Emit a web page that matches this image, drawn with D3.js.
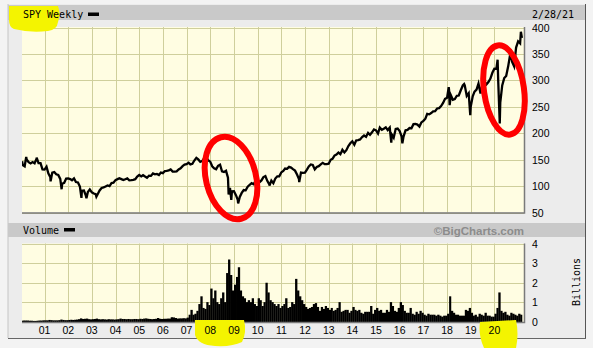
<!DOCTYPE html>
<html>
<head>
<meta charset="utf-8">
<script src="https://cdn.jsdelivr.net/npm/d3@7"></script>
<style>
  body { margin: 0; background: #f3f3f3; }
  svg { display: block; }
  .mono { font-family: "DejaVu Sans Mono", monospace; font-size: 10px; fill: #000; }
  .tick { font-family: "Liberation Sans", Arial, sans-serif; font-size: 10.5px; fill: #000; }
</style>
</head>
<body>
<div id="chart"></div>
<script>
// monthly closes, Jan 2000 .. Feb 2021
var priceClose = [
  139.6,137.4,150.4,145.1,142.8,145.3,143.1,152.0,143.6,143.4,131.6,131.2,
  136.6,124.1,116.7,125.5,126.5,122.4,121.0,113.6,104.4,106.1,114.1,114.3,
  113.2,110.9,114.6,107.7,106.8,99.0,91.2,91.6,81.8,88.6,93.7,88.2,
  85.9,84.6,84.7,91.6,96.3,97.6,99.1,101.2,100.0,105.6,106.3,111.3,
  113.1,114.9,113.1,111.3,112.9,114.5,110.9,111.3,111.8,113.0,118.0,120.9,
  118.2,120.6,118.0,115.8,119.5,119.2,123.9,122.2,123.0,120.9,125.6,124.5,
  128.4,128.6,129.8,131.5,127.5,127.3,127.8,131.4,133.6,137.7,140.5,141.6,
  144.2,140.9,142.0,148.3,153.3,150.4,145.7,147.6,152.6,154.7,148.7,146.2,
  137.4,133.8,132.0,138.3,140.3,128.0,126.6,128.8,116.0,96.8,89.9,90.2,
  82.8,73.9,79.5,87.0,92.5,92.0,98.8,102.5,105.6,103.6,109.9,111.4,
  107.4,110.7,117.0,118.8,109.4,103.2,110.3,105.3,114.1,118.5,118.5,125.8,
  128.7,133.2,132.6,136.4,134.9,132.0,129.2,121.7,113.2,125.5,125.0,125.5,
  131.3,137.0,140.8,139.9,131.5,136.1,137.7,141.2,144.0,141.4,141.5,142.4,
  149.7,151.6,157.6,159.7,163.5,160.4,168.7,163.7,168.0,175.8,181.0,184.7,
  178.2,186.3,187.0,188.3,192.7,195.7,193.1,200.7,197.0,201.7,207.2,205.5,
  199.5,210.7,206.4,208.5,211.1,205.9,210.5,197.7,191.6,207.9,208.7,203.9,
  193.7,193.6,205.5,206.3,209.8,209.5,217.1,217.4,216.3,212.6,220.4,223.5,
  227.5,236.5,235.7,238.1,241.4,241.8,246.8,247.5,251.2,257.2,265.0,266.9,
  281.9,271.7,263.2,264.5,270.9,271.3,281.3,290.3,290.7,270.6,275.7,249.9,
  269.9,278.7,282.5,294.0,275.3,293.0,297.4,292.5,296.8,303.3,314.3,321.9,
  321.7,296.3,257.8,290.5,304.3,308.4,326.5,349.3,334.9,326.5,362.1,373.9,
  370.1,380.4
];

// weekly highs / lows between the month ends
var extraDates = ["2000-01-21","2000-03-24","2000-09-01","2001-04-04","2001-09-21",
  "2002-07-24","2002-10-09","2003-03-11","2007-10-11","2008-10-10","2008-11-20",
  "2009-03-06","2010-07-02","2011-10-04","2015-08-24","2016-02-11","2018-01-26",
  "2018-02-09","2018-09-21","2018-12-24","2020-02-19","2020-03-23","2020-09-02","2021-02-12"];
var extraValues = [147,155,154,109,94,77.7,77,80,157,84,74,67.1,101,107.5,182,181,287,
  253,293,234,339,218.3,358,392];

// volume, billions of shares per week (monthly), Jan 2000 .. Feb 2021
var volume = [
  0.04,0.05,0.05,0.05,0.04,0.04,0.03,0.03,0.04,0.05,0.05,0.06,
  0.06,0.06,0.08,0.07,0.06,0.06,0.06,0.07,0.10,0.08,0.07,0.07,
  0.08,0.09,0.08,0.09,0.10,0.12,0.16,0.13,0.14,0.15,0.12,0.11,
  0.12,0.13,0.15,0.12,0.11,0.12,0.11,0.10,0.12,0.11,0.11,0.10,
  0.11,0.12,0.15,0.13,0.13,0.12,0.13,0.12,0.12,0.13,0.13,0.12,
  0.14,0.13,0.15,0.16,0.14,0.13,0.12,0.13,0.14,0.18,0.14,0.13,
  0.14,0.14,0.15,0.15,0.22,0.21,0.18,0.15,0.16,0.16,0.17,0.16,
  0.20,0.35,0.60,0.35,0.40,0.55,0.90,1.30,0.70,0.65,1.00,0.85,
  1.70,1.20,1.60,1.00,0.90,1.20,1.50,1.00,2.50,3.20,2.40,1.60,
  1.90,2.30,2.80,1.60,1.30,1.20,1.00,1.10,1.00,1.20,0.90,0.80,
  1.20,1.10,0.80,1.00,2.00,1.50,1.10,1.00,0.90,0.80,0.90,0.70,
  0.80,0.90,1.20,0.70,0.75,1.00,0.90,2.20,1.60,1.30,1.10,0.90,
  0.75,0.65,0.70,0.75,0.90,0.95,0.75,0.55,0.75,0.65,0.80,0.70,
  0.60,0.70,0.55,0.60,0.70,1.00,0.50,0.55,0.60,0.60,0.45,0.55,
  0.75,0.60,0.55,0.60,0.45,0.40,0.50,0.50,0.50,0.80,0.40,0.60,
  0.70,0.55,0.60,0.45,0.45,0.60,0.50,1.00,0.80,0.55,0.50,0.70,
  1.00,0.85,0.55,0.45,0.45,0.70,0.40,0.35,0.50,0.40,0.55,0.45,
  0.35,0.30,0.40,0.35,0.35,0.35,0.30,0.35,0.30,0.25,0.30,0.30,
  0.40,1.30,0.55,0.45,0.35,0.35,0.30,0.30,0.30,0.60,0.55,0.70,
  0.45,0.30,0.35,0.25,0.40,0.35,0.30,0.45,0.30,0.30,0.25,0.25,
  0.40,0.70,1.50,0.55,0.45,0.50,0.35,0.30,0.45,0.40,0.35,0.30,
  0.40,0.35
];

var priceTicks = [50,100,150,200,250,300,350,400];
var volTicks = [0,1,2,3,4];
var yearLabels = ["01","02","03","04","05","06","07","08","09","10",
  "11","12","13","14","15","16","17","18","19","20"];

var W = 593, H = 348;
var svg = d3.select("#chart").append("svg").attr("width", W).attr("height", H);

var x = d3.scaleTime()
  .domain([new Date(2000, 0, 19), new Date(2021, 3, 1)])
  .range([22, 524]);
var yP = d3.scaleLinear().domain([50, 400]).range([212.5, 27.5]);
var yV = d3.scaleLinear().domain([0, 4]).range([321.5, 244]);

var parse = d3.timeParse("%Y-%m-%d");
var pts = priceClose.map(function(v, i) { return {d: new Date(2000, i + 1, 0), v: v}; });
extraDates.forEach(function(s, i) { pts.push({d: parse(s), v: extraValues[i]}); });
pts.sort(function(a, b) { return a.d - b.d; });

// panel
svg.append("rect").attr("x", 8).attr("y", 4).attr("width", 577).attr("height", 334).attr("fill", "#ececec");
svg.append("line").attr("x1", 8).attr("x2", 8).attr("y1", 4).attr("y2", 338).attr("stroke", "#c4c4c4");
svg.append("line").attr("x1", 585.5).attr("x2", 585.5).attr("y1", 4).attr("y2", 339).attr("stroke", "#555");
svg.append("line").attr("x1", 8).attr("x2", 586).attr("y1", 338.5).attr("y2", 338.5).attr("stroke", "#666");
svg.append("rect").attr("x", 8).attr("y", 5).attr("width", 577).attr("height", 15).attr("fill", "#c9c9c9");
svg.append("rect").attr("x", 8).attr("y", 223).attr("width", 577).attr("height", 14).attr("fill", "#c9c9c9");

var defs = svg.append("defs");
defs.append("clipPath").attr("id", "cp").append("rect").attr("x", 22).attr("y", 27).attr("width", 502).attr("height", 186);
defs.append("clipPath").attr("id", "cv").append("rect").attr("x", 22).attr("y", 243).attr("width", 502).attr("height", 79);

function plotBox(top, bottom, yS, ticks) {
  var g = svg.append("g");
  g.append("rect").attr("x", 22).attr("y", top).attr("width", 502).attr("height", bottom - top).attr("fill", "#fffde2");
  g.selectAll(".hg").data(ticks).enter().append("line")
    .attr("x1", 22).attr("x2", 524)
    .attr("y1", function(d) { return Math.round(yS(d)) + 0.5; })
    .attr("y2", function(d) { return Math.round(yS(d)) + 0.5; })
    .attr("stroke", "#cfcf9c");
  g.selectAll(".vg").data(d3.range(2001, 2021)).enter().append("line")
    .attr("x1", function(d) { return Math.round(x(new Date(d, 0, 1))) + 0.5; })
    .attr("x2", function(d) { return Math.round(x(new Date(d, 0, 1))) + 0.5; })
    .attr("y1", top).attr("y2", bottom)
    .attr("stroke", "#cfcf9c");
  return g;
}
plotBox(27, 212.5, yP, priceTicks);
plotBox(243.5, 322, yV, volTicks);

// price line
svg.append("path").datum(pts)
  .attr("clip-path", "url(#cp)")
  .attr("fill", "none").attr("stroke", "#000").attr("stroke-width", 2.3)
  .attr("stroke-linejoin", "miter")
  .attr("d", d3.line().x(function(d) { return x(d.d); }).y(function(d) { return yP(d.v); }));

// volume bars
svg.append("g").attr("clip-path", "url(#cv)")
  .selectAll("rect").data(volume).enter().append("rect")
  .attr("x", function(d, i) { return x(new Date(2000, i, 1)); })
  .attr("width", function(d, i) { return x(new Date(2000, i + 1, 1)) - x(new Date(2000, i, 1)) + 0.3; })
  .attr("y", function(d) { return yV(d); })
  .attr("height", function(d) { return yV(0) - yV(d) + 1; })
  .attr("fill", "#000");

// plot borders (right + bottom)
[[27, 213], [243.5, 322.5]].forEach(function(b) {
  svg.append("path").attr("d", "M524.5," + b[0] + "V" + b[1] + "H22")
    .attr("fill", "none").attr("stroke", "#7a7a7a").attr("stroke-width", 1.5);
});

// highlighter marks
var hl = svg.append("g").attr("fill", "#f4f400");
hl.append("path").attr("d", "M9,6 L58,6 Q61,14 58,22 Q57,30 48,31 Q30,33 14,29 Q9,27 9,20 Z");
hl.append("path").attr("d", "M195,320 L244,320 Q247,332 242,342 Q232,347 215,346 Q198,345 195,335 Z");
hl.append("path").attr("d", "M480,322 L516,320 Q519,334 516,348 L484,348 Q478,335 480,322 Z");

// texts
svg.append("text").attr("class", "mono").attr("x", 23).attr("y", 18).text("SPY Weekly");
svg.append("rect").attr("x", 88).attr("y", 12.5).attr("width", 11).attr("height", 3.5).attr("fill", "#000");
svg.append("text").attr("class", "mono").attr("x", 532).attr("y", 18).text("2/28/21");
svg.append("text").attr("class", "mono").attr("x", 23).attr("y", 234).text("Volume");
svg.append("rect").attr("x", 64).attr("y", 228).attr("width", 11).attr("height", 3.5).attr("fill", "#000");
svg.append("text").attr("x", 524).attr("y", 234.5).attr("text-anchor", "end")
  .style("font-family", "'Liberation Sans', Arial, sans-serif").style("font-size", "11.5px")
  .style("font-weight", "bold").attr("fill", "#8c8c8c").text("\u00a9BigCharts.com");

svg.selectAll(".pl").data(priceTicks).enter().append("text").attr("class", "tick")
  .attr("x", 532).attr("y", function(d) { return yP(d) + 4; }).text(function(d) { return d; });
svg.selectAll(".vl").data(volTicks).enter().append("text").attr("class", "tick")
  .attr("x", 532).attr("y", function(d) { return yV(d) + 4; }).text(function(d) { return d; });
svg.selectAll(".xl").data(yearLabels).enter().append("text").attr("class", "tick")
  .attr("text-anchor", "middle")
  .attr("x", function(d, i) { return x(new Date(2001 + i, 0, 1)); })
  .attr("y", 334).text(function(d) { return d; });
svg.append("text").attr("class", "mono").attr("transform", "translate(580,282) rotate(-90)")
  .attr("text-anchor", "middle").text("Billions");

// red circles
var rc = svg.append("g").attr("fill", "none").attr("stroke", "#ff0000").attr("stroke-width", 6);
rc.append("ellipse").attr("cx", 231).attr("cy", 178).attr("rx", 25).attr("ry", 42)
  .attr("transform", "rotate(-14,231,178)");
rc.append("ellipse").attr("cx", 504).attr("cy", 90).attr("rx", 20).attr("ry", 45)
  .attr("transform", "rotate(-8,504,90)");
</script>
</body>
</html>
